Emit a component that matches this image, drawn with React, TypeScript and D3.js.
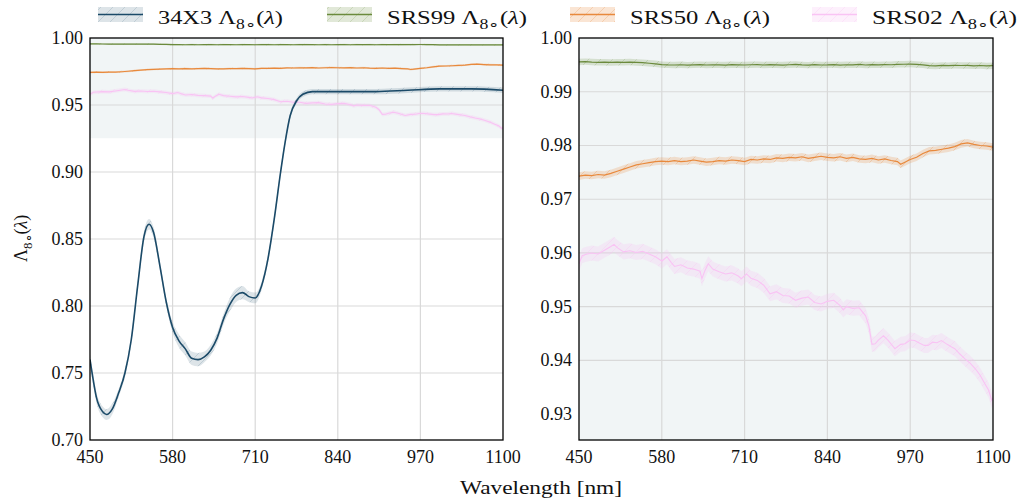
import React from "react";
import * as d3 from "d3";

// ---------- data ----------
const wl34 = [450,455,460,470,476,485,495,505,515,525,535,543,550,560,570,580,590,600,610,620,630,640,650,660,670,680,690,700,710,720,730,740,750,757,765,775,785,800,850,900,950,1000,1050,1100];
const val34 = [0.760,0.745,0.732,0.721,0.719,0.723,0.735,0.750,0.775,0.815,0.852,0.861,0.855,0.830,0.803,0.784,0.774,0.768,0.761,0.760,0.762,0.767,0.776,0.790,0.801,0.808,0.810,0.807,0.806,0.815,0.835,0.865,0.900,0.922,0.942,0.953,0.958,0.960,0.960,0.960,0.961,0.962,0.962,0.961];
const band34 = [0.004,0.004,0.004,0.004,0.004,0.004,0.003,0.003,0.003,0.003,0.004,0.004,0.004,0.003,0.003,0.004,0.005,0.005,0.005,0.005,0.004,0.004,0.004,0.004,0.005,0.005,0.005,0.004,0.004,0.003,0.003,0.003,0.003,0.002,0.002,0.002,0.002,0.002,0.002,0.002,0.002,0.002,0.002,0.002];

const wl99 = [450,460,470,480,490,500,510,520,530,540,550,560,570,580,590,600,610,620,630,640,650,660,670,680,690,700,710,720,730,740,750,760,770,780,790,800,810,820,830,840,850,860,870,880,890,900,910,920,930,940,950,960,970,980,990,1000,1010,1020,1030,1040,1050,1060,1070,1080,1090,1100];
const val99 = [0.99555,0.99560,0.99552,0.99548,0.99550,0.99545,0.99550,0.99548,0.99552,0.99545,0.99540,0.99530,0.99520,0.99505,0.99500,0.99498,0.99502,0.99495,0.99500,0.99505,0.99498,0.99502,0.99500,0.99496,0.99503,0.99500,0.99498,0.99502,0.99505,0.99498,0.99503,0.99500,0.99497,0.99502,0.99508,0.99500,0.99495,0.99503,0.99498,0.99500,0.99505,0.99497,0.99502,0.99500,0.99508,0.99498,0.99503,0.99500,0.99505,0.99502,0.99510,0.99512,0.99515,0.99508,0.99500,0.99485,0.99480,0.99490,0.99485,0.99492,0.99488,0.99490,0.99482,0.99488,0.99480,0.99485];
const band99 = 0.0006;

const wl50 = [450,460,470,480,490,500,510,520,530,540,550,560,570,580,590,600,610,620,630,640,650,660,670,680,690,700,710,720,730,740,750,760,770,780,790,800,810,820,830,840,850,860,870,880,890,900,910,920,930,940,950,955,960,970,980,990,1000,1010,1020,1030,1040,1050,1060,1070,1080,1090,1100];
const val50 = [0.9743,0.9745,0.9744,0.9746,0.9745,0.9748,0.9752,0.9756,0.9760,0.9764,0.9766,0.9768,0.9770,0.9771,0.9770,0.9772,0.9770,0.9771,0.9773,0.9771,0.9769,0.9770,0.9772,0.9771,0.9773,0.9772,0.9770,0.9774,0.9773,0.9775,0.9774,0.9777,0.9776,0.9778,0.9777,0.9779,0.9776,0.9778,0.9780,0.9778,0.9777,0.9779,0.9776,0.9778,0.9775,0.9774,0.9776,0.9773,0.9775,0.9772,0.9770,0.9765,0.9768,0.9774,0.9778,0.9785,0.9790,0.9791,0.9793,0.9795,0.9798,0.9803,0.9805,0.9802,0.9800,0.9799,0.9797];
const band50 = 0.0007;

const wl02 = [450,455,460,470,480,490,500,505,510,520,530,540,550,560,570,580,588,595,600,610,620,630,640,643,648,653,660,670,680,690,700,705,713,720,730,740,750,760,770,780,790,800,810,820,830,840,850,860,865,870,880,890,900,905,910,915,920,928,935,946,955,962,970,977,985,992,998,1005,1012,1019,1028,1035,1040,1048,1056,1064,1072,1080,1087,1093,1098,1100];
const val02 = [0.9580,0.9595,0.9597,0.9600,0.9598,0.9605,0.9612,0.9616,0.9610,0.9602,0.9604,0.9601,0.9603,0.9598,0.9593,0.9585,0.9593,0.9582,0.9575,0.9578,0.9572,0.9570,0.9566,0.9552,0.9568,0.9580,0.9570,0.9565,0.9561,0.9563,0.9557,0.9552,0.9561,0.9553,0.9549,0.9540,0.9524,0.9528,0.9521,0.9520,0.9512,0.9516,0.9518,0.9508,0.9505,0.9510,0.9512,0.9502,0.9494,0.9500,0.9497,0.9498,0.9483,0.9465,0.9430,0.9431,0.9438,0.9446,0.9438,0.9422,0.9430,0.9431,0.9438,0.9437,0.9432,0.9428,0.9428,0.9434,0.9433,0.9437,0.9430,0.9425,0.9422,0.9412,0.9403,0.9395,0.9385,0.9372,0.9357,0.9345,0.9326,0.9330];
const band02 = 0.0014;

const xTicks = [450, 580, 710, 840, 970, 1100];
const yTicksLeft = [0.70, 0.75, 0.80, 0.85, 0.90, 0.95, 1.00];
const yTicksRight = [0.93, 0.94, 0.95, 0.96, 0.97, 0.98, 0.99, 1.00];
const legendNames = ["34X3", "SRS99", "SRS50", "SRS02"];

// ---------- styles ----------
const FONT = "Liberation Serif, serif";
const colors = [
  { line: "#1b4a68", band: "#1b4a68", bandOp: 0.15, hatchOp: 0.15, w: 1.6 },
  { line: "#6b8a3c", band: "#6b8a3c", bandOp: 0.2, hatchOp: 0.2, w: 1.2 },
  { line: "#e8893c", band: "#e8893c", bandOp: 0.22, hatchOp: 0.25, w: 1.2 },
  { line: "#f9c3f4", band: "#f9c3f4", bandOp: 0.25, hatchOp: 0.3, w: 1.1 },
];
const SHADE = "#f1f5f6";
const GRID = "#d9d9d9";

type S = { wl: number[]; v: number[]; b: number[] };
const series: S[] = [
  { wl: wl34, v: val34, b: band34 },
  { wl: wl99, v: val99, b: wl99.map(() => band99) },
  { wl: wl50, v: val50, b: wl50.map(() => band50) },
  { wl: wl02, v: val02, b: wl02.map(() => band02) },
];

function Label({ name, x, y, size, len }: { name: string; x: number; y: number; size: number; len?: number }) {
  return (
    <text x={x} y={y} fontFamily={FONT} fontSize={size} fill="#111" textLength={len} lengthAdjust={len ? "spacingAndGlyphs" : undefined}>
      {name ? name + " " : ""}Λ
      <tspan dy={size * 0.28} fontSize={size * 0.72}>8∘</tspan>
      <tspan dy={-size * 0.28}>(</tspan>
      <tspan fontStyle="italic">λ</tspan>)
    </text>
  );
}

function Panel({ x0, x1, y0, y1, yDomain, yTicks, id, shadeTop, show }: any) {
  const xs = d3.scaleLinear().domain([450, 1100]).range([x0, x1]);
  const ys = d3.scaleLinear().domain(yDomain).range([y1, y0]);
  return (
    <g>
      <defs>
        <clipPath id={"clip" + id}>
          <rect x={x0} y={y0} width={x1 - x0} height={y1 - y0} />
        </clipPath>
      </defs>
      <rect x={x0} y={y0} width={x1 - x0} height={y1 - y0} fill="#fff" />
      {shadeTop !== undefined ? (
        <rect x={x0} y={y0} width={x1 - x0} height={ys(shadeTop) - y0} fill={SHADE} />
      ) : (
        <rect x={x0} y={y0} width={x1 - x0} height={y1 - y0} fill={SHADE} />
      )}
      {xTicks.slice(1, -1).map((t) => (
        <line key={"gx" + t} x1={xs(t)} x2={xs(t)} y1={y0} y2={y1} stroke={GRID} strokeWidth={1.2} />
      ))}
      {yTicks.slice(1, -1).map((t: number) => (
        <line key={"gy" + t} x1={x0} x2={x1} y1={ys(t)} y2={ys(t)} stroke={GRID} strokeWidth={1.2} />
      ))}
      <g clipPath={`url(#clip${id})`}>
        {show.map((i: number) => {
          const s = series[i];
          const pts = s.wl.map((w, k) => ({ w, v: s.v[k], b: s.b[k] }));
          const curve = i === 0 ? d3.curveMonotoneX : d3.curveLinear;
          const area = d3.area<any>().x((d) => xs(d.w)).y0((d) => ys(d.v - d.b)).y1((d) => ys(d.v + d.b)).curve(curve);
          const line = d3.line<any>().x((d) => xs(d.w)).y((d) => ys(d.v)).curve(curve);
          return (
            <g key={i}>
              <path d={area(pts) || ""} fill={colors[i].band} fillOpacity={colors[i].bandOp} stroke="none" />
              <path d={area(pts) || ""} fill={`url(#hatch${i})`} stroke="none" />
              <path d={line(pts) || ""} fill="none" stroke={colors[i].line} strokeWidth={colors[i].w} />
            </g>
          );
        })}
      </g>
      <rect x={x0} y={y0} width={x1 - x0} height={y1 - y0} fill="none" stroke="#000" strokeWidth={1.3} />
      {xTicks.map((t) => (
        <text key={"xt" + t} x={xs(t)} y={y1 + 23} textAnchor="middle" fontFamily={FONT} fontSize={18} fill="#111">
          {t}
        </text>
      ))}
      {yTicks.map((t: number) => (
        <text key={"yt" + t} x={x0 - 7} y={ys(t) + 6} textAnchor="end" fontFamily={FONT} fontSize={18} fill="#111">
          {t.toFixed(2)}
        </text>
      ))}
    </g>
  );
}

export default function App() {
  const legendX = [98, 327, 570, 812];
  const legendLen = [125, 140, 140, 145];
  return (
    <svg width={1017} height={502} style={{ position: "absolute", left: 0, top: 0, background: "#fff" }}>
      <defs>
        {colors.map((c, i) => (
          <pattern key={i} id={"hatch" + i} patternUnits="userSpaceOnUse" width={12} height={12}>
            <path d="M-3,3 L3,-3 M0,12 L12,0 M9,15 L15,9" stroke={c.line} strokeOpacity={c.hatchOp} strokeWidth={1} />
          </pattern>
        ))}
      </defs>
      <Panel id="L" x0={90} x1={503} y0={38} y1={440} yDomain={[0.7, 1.0]} yTicks={yTicksLeft} shadeTop={0.9252} show={[1, 2, 3, 0]} />
      <Panel id="R" x0={579} x1={993} y0={38} y1={440} yDomain={[0.9252, 1.0]} yTicks={yTicksRight} show={[1, 2, 3]} />
      {legendNames.map((n, i) => (
        <g key={n}>
          <rect x={legendX[i]} y={7} width={45} height={15} fill={colors[i].band} fillOpacity={colors[i].bandOp} />
          <rect x={legendX[i]} y={7} width={45} height={15} fill={`url(#hatch${i})`} />
          <line x1={legendX[i]} x2={legendX[i] + 45} y1={14.5} y2={14.5} stroke={colors[i].line} strokeWidth={1.6} />
          <Label name={n} x={legendX[i] + 60} y={24} size={19} len={legendLen[i]} />
        </g>
      ))}
      <g transform="translate(27,240) rotate(-90)">
        <Label name="" x={-22} y={0} size={18} />
      </g>
      <text x={541} y={494} textAnchor="middle" fontFamily={FONT} fontSize={19} fill="#111" textLength={162} lengthAdjust="spacingAndGlyphs">
        Wavelength [nm]
      </text>
    </svg>
  );
}
